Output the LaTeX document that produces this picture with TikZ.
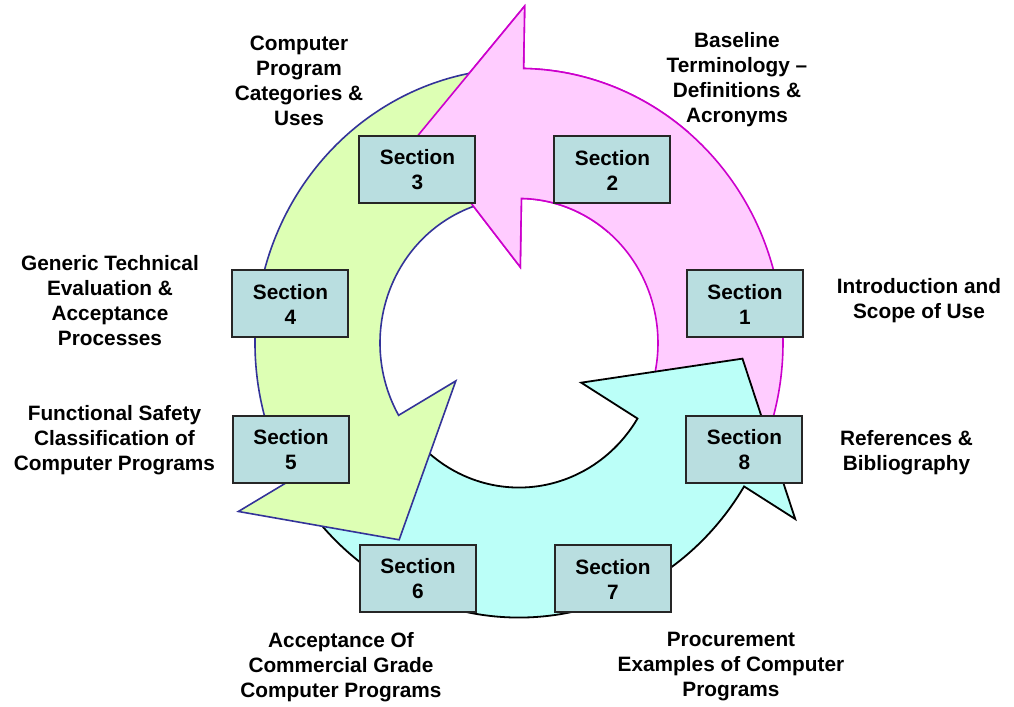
\documentclass[tikz,border=0pt]{standalone}
\usepackage{fontspec}
\setmainfont{Liberation Sans}
\definecolor{pinkfill}{RGB}{255,204,255}
\definecolor{pinkline}{RGB}{204,0,204}
\definecolor{greenfill}{RGB}{221,255,180}
\definecolor{greenline}{RGB}{51,51,153}
\definecolor{cyanfill}{RGB}{187,255,248}
\definecolor{boxfill}{RGB}{185,222,224}
\begin{document}
\begin{tikzpicture}[x=0.5pt,y=0.5pt,
        secbox/.style={draw=black!85,line width=1pt,fill=boxfill,minimum width=58pt,minimum height=33.5pt,inner sep=0pt,align=center,font=\bfseries\fontsize{10.4}{12.5}\selectfont},
        topic/.style={align=center,font=\bfseries\fontsize{10.4}{12.5}\selectfont},
        pinkarrow/.style={fill=pinkfill,draw=pinkline,line width=0.8pt,line join=miter},
        greenarrow/.style={fill=greenfill,draw=greenline,line width=0.8pt,line join=miter},
        cyanarrow/.style={fill=cyanfill,draw=black,line width=0.9pt,line join=miter}]
    \useasboundingbox (-519,-364) rectangle (495,343);
    % ring of three arrows
    \begin{scope}[yscale=1.04]
        \filldraw[pinkarrow] (-24:264) arc[start angle=-24,end angle=89,radius=264] -- (89:324) -- (116.65:224) -- (89:73) -- (89:139) arc[start angle=89,end angle=-24,radius=139] -- cycle;
        \filldraw[cyanarrow] (216:264) arc[start angle=216,end angle=328.5,radius=264] -- (328.5:324) -- (356.15:224) -- (328.5:73) -- (328.5:139) arc[start angle=328.5,end angle=216,radius=139] -- cycle;
        \filldraw[greenarrow] (97:264) arc[start angle=97,end angle=210,radius=264] -- (210:324) -- (237.65:224) -- (210:73) -- (210:139) arc[start angle=210,end angle=97,radius=139] -- cycle;
        % pink head again, on top of the green tail
        \fill[pinkfill] (50:264) arc[start angle=50,end angle=89,radius=264] -- (89:324) -- (116.65:224) -- (89:73) -- (89:139) arc[start angle=89,end angle=50,radius=139] -- cycle;
        \draw[pinkarrow,fill=none] (50:264) arc[start angle=50,end angle=89,radius=264] -- (89:324) -- (116.65:224) -- (89:73) -- (89:139) arc[start angle=89,end angle=50,radius=139];
    \end{scope}
    % sections
    \node[secbox] (s1) at (226,39) {Section\\1};
    \node[secbox] (s2) at (93.5,173) {Section\\2};
    \node[secbox] (s3) at (-101.5,173) {Section\\3};
    \node[secbox] (s4) at (-228.5,39) {Section\\4};
    \node[secbox] (s5) at (-228,-107) {Section\\5};
    \node[secbox] (s6) at (-101,-236) {Section\\6};
    \node[secbox] (s7) at (94,-236) {Section\\7};
    \node[secbox] (s8) at (225.5,-107) {Section\\8};
    % topics
    \node[topic] (intro) at (400,42.5) {Introduction and\\Scope of Use};
    \node[topic] (base) at (218,263.5) {Baseline\\Terminology --\\Definitions \&\\Acronyms};
    \node[topic] (cats) at (-220,262.5) {Computer\\Program\\Categories \&\\Uses};
    \node[topic] (eval) at (-409,42) {Generic Technical\\Evaluation \&\\Acceptance\\Processes};
    \node[topic] (safety) at (-404.5,-97) {Functional Safety\\Classification of\\Computer Programs};
    \node[topic] (commercial) at (-178,-324) {Acceptance Of\\Commercial Grade\\Computer Programs};
    \node[topic] (procure) at (212,-324) {Procurement\\Examples of Computer\\Programs};
    \node[topic] (refs) at (387.5,-109.5) {References \&\\Bibliography};
\end{tikzpicture}
\end{document}
